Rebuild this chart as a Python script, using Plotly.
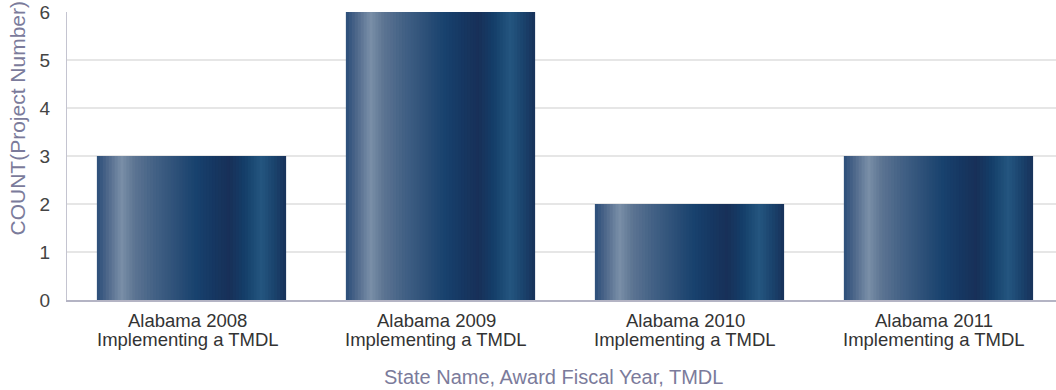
import numpy as np
import plotly.graph_objects as go

# Data
state_years = ["Alabama 2008", "Alabama 2009", "Alabama 2010", "Alabama 2011"]
tmdl = ["Implementing a TMDL"] * 4
counts = [3, 6, 2, 3]
y_ticks = [0, 1, 2, 3, 4, 5, 6]
x_title = "State Name, Award Fiscal Year, TMDL"
y_title = "COUNT(Project Number)"

categories = [f"{a} {b}" for a, b in zip(state_years, tmdl)]

# Horizontal sheen across each bar: (position across bar, RGB)
sheen_stops = [
    (0.00, (42, 77, 120)),
    (0.06, (80, 105, 140)),
    (0.13, (122, 143, 168)),
    (0.20, (92, 116, 146)),
    (0.30, (68, 98, 134)),
    (0.42, (45, 80, 120)),
    (0.52, (24, 66, 110)),
    (0.62, (22, 55, 98)),
    (0.70, (24, 48, 88)),
    (0.78, (20, 62, 105)),
    (0.87, (36, 86, 128)),
    (0.94, (26, 66, 108)),
    (1.00, (24, 50, 90)),
]

BAR_WIDTH = 0.76
N_STRIPS = 64
PLOT_H = 288  # plot area height in px

pos = np.array([s[0] for s in sheen_stops])
rgb = np.array([s[1] for s in sheen_stops], dtype=float)


def sheen_color(t):
    r, g, b = (np.interp(t, pos, rgb[:, k]) for k in range(3))
    return f"rgb({r:.0f},{g:.0f},{b:.0f})"


def paper_y(px_below_axis):
    return -px_below_axis / PLOT_H


fig = go.Figure()
strip_w = BAR_WIDTH / N_STRIPS
for i in range(N_STRIPS):
    t = (i + 0.5) / N_STRIPS
    w = strip_w * (1.6 if i < N_STRIPS - 1 else 1.0)
    fig.add_trace(go.Bar(
        x=categories,
        y=counts,
        width=w,
        offset=-BAR_WIDTH / 2 + i * strip_w,
        marker=dict(color=sheen_color(t), line=dict(width=0)),
        hoverinfo="skip",
        showlegend=False,
    ))

label_font = dict(family="Liberation Sans, Arial, sans-serif", size=18.5, color="#333333")
title_font = dict(family="Liberation Sans, Arial, sans-serif", size=20, color="#7b7b9b")

annotations = []
for cat, top, bottom in zip(categories, state_years, tmdl):
    annotations.append(dict(
        text=top, x=cat, xref="x", yref="paper", y=paper_y(20), xshift=-4,
        xanchor="center", yanchor="middle", showarrow=False, font=label_font,
    ))
    annotations.append(dict(
        text=bottom, x=cat, xref="x", yref="paper", y=paper_y(39), xshift=-4,
        xanchor="center", yanchor="middle", showarrow=False, font=label_font,
    ))

annotations.append(dict(
    text=x_title, xref="paper", yref="paper",
    x=(553 - 67) / 989, y=paper_y(77),
    xanchor="center", yanchor="middle", showarrow=False, font=title_font,
))
annotations.append(dict(
    text=y_title, textangle=-90, xref="paper", yref="paper",
    x=(17 - 67) / 989, y=paper_y(-62),
    xanchor="center", yanchor="bottom", showarrow=False,
    font=dict(title_font, size=21),
))

fig.update_layout(
    width=1056,
    height=390,
    margin=dict(l=67, r=0, t=12, b=90),
    paper_bgcolor="white",
    plot_bgcolor="white",
    barmode="overlay",
    font=dict(family="Liberation Sans, Arial, sans-serif", color="#333333"),
    xaxis=dict(
        range=[-0.5, 3.472],
        showline=True,
        linecolor="#b4b4c4",
        linewidth=1.5,
        showgrid=False,
        ticks="",
        showticklabels=False,
        fixedrange=True,
    ),
    yaxis=dict(
        range=[0, 6],
        tickvals=y_ticks,
        showline=True,
        linecolor="#c4c4d0",
        linewidth=1,
        showgrid=True,
        gridcolor="#e6e6e6",
        gridwidth=1.5,
        zeroline=False,
        ticks="",
        tickfont=dict(family="Liberation Sans, Arial, sans-serif", size=19, color="#444444"),
        ticklabelstandoff=12,
    ),
    annotations=annotations,
)

fig.write_html("out.html")
